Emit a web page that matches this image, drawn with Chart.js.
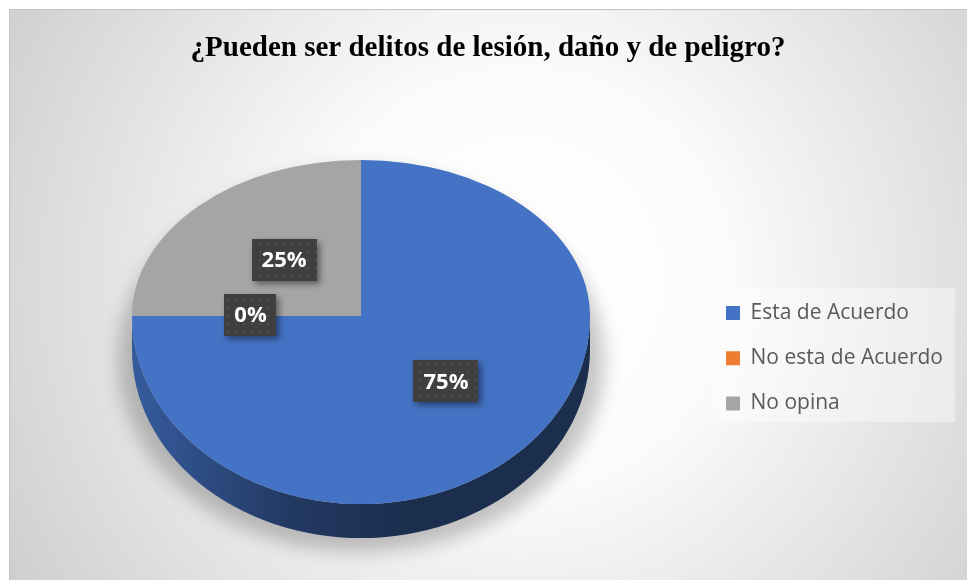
<!DOCTYPE html>
<html>
<head>
<meta charset="utf-8">
<script src="https://cdn.jsdelivr.net/npm/chart.js@4.4.1/dist/chart.umd.min.js"></script>
<style>
  html, body { margin: 0; padding: 0; background: #fff; }
</style>
</head>
<body>
<canvas id="myChart" width="967" height="580"></canvas>
<script>
var title = '¿Pueden ser delitos de lesión, daño y de peligro?';
var categories = ['Esta de Acuerdo', 'No esta de Acuerdo', 'No opina'];
var values = [75, 0, 25];
var colors = ['#4472C4', '#ED7D31', '#A5A5A5'];

// where the tilted disc sits (excel style 3d pie)
var PIE = { x: 361, y: 316, rx: 229, ryTop: 156, ryBottom: 188, depth: 34 };
// legend panel and first legend row
var LEGEND = { x: 714, y: 288, w: 241, h: 134, boxX: 726, firstRow: 313 };

function shade(hex, f) {
  var n = parseInt(hex.slice(1), 16);
  var r = Math.round(((n >> 16) & 255) * f);
  var g = Math.round(((n >> 8) & 255) * f);
  var b = Math.round((n & 255) * f);
  return 'rgb(' + r + ',' + g + ',' + b + ')';
}

// unit circle point -> page point on the tilted top face
function project(ux, uy) {
  return {
    x: PIE.x + ux * PIE.rx,
    y: PIE.y + uy * (uy < 0 ? PIE.ryTop : PIE.ryBottom)
  };
}

// dotted dark fill for the data labels
var dots = document.createElement('canvas');
dots.width = 8; dots.height = 8;
var dctx = dots.getContext('2d');
dctx.fillStyle = '#3f3f3f';
dctx.fillRect(0, 0, 8, 8);
dctx.fillStyle = '#4d4d4d';
dctx.fillRect(3, 3, 2, 2);

var background = {
  id: 'background',
  afterLayout: function(chart) {
    // move the legend onto its panel
    var lg = chart.legend;
    var pad = lg.options.labels.padding;
    var fontSize = lg.options.labels.font.size;
    var colH = lg.columnSizes[0].height;
    var y0 = (lg.top + pad + lg.bottom - colH) / 2;
    var dy = (LEGEND.firstRow - fontSize / 2) - y0;
    lg.top += dy; lg.bottom += dy;
    var dx = LEGEND.boxX - (lg.left + pad);
    lg.left += dx; lg.right += dx;
  },
  beforeDraw: function(chart) {
    var ctx = chart.ctx;
    ctx.save();
    ctx.fillStyle = '#fff';
    ctx.fillRect(0, 0, chart.width, chart.height);
    var g = ctx.createRadialGradient(520, 280, 30, 520, 280, 620);
    g.addColorStop(0, '#ffffff');
    g.addColorStop(0.3, '#fbfbfb');
    g.addColorStop(1, '#cbcbcb');
    ctx.fillStyle = g;
    ctx.fillRect(9, 9, chart.width - 9, chart.height - 9);
    ctx.strokeStyle = '#c4c4c4';
    ctx.lineWidth = 1;
    ctx.beginPath();
    ctx.moveTo(9.5, chart.height);
    ctx.lineTo(9.5, 9.5);
    ctx.lineTo(chart.width, 9.5);
    ctx.stroke();

    ctx.fillStyle = 'rgba(255,255,255,0.4)';
    ctx.fillRect(LEGEND.x, LEGEND.y, LEGEND.w, LEGEND.h);
    ctx.restore();
  }
};

var pie3d = {
  id: 'pie3d',
  beforeDatasetsDraw: function(chart) {
    var ctx = chart.ctx;
    var arcs = chart.getDatasetMeta(0).data;
    var R = arcs[0].outerRadius;
    var cx = arcs[0].x, cy = arcs[0].y;

    // soft shadow under the disc
    ctx.save();
    ctx.filter = 'blur(9px)';
    ctx.fillStyle = 'rgba(0,0,0,0.22)';
    ctx.beginPath();
    ctx.ellipse(PIE.x, PIE.y + 44, PIE.rx + 14, PIE.ryBottom + 4, 0, 0, Math.PI * 2);
    ctx.fill();
    ctx.restore();

    // side wall, only the front half shows
    arcs.forEach(function(arc, i) {
      for (var k = -1; k <= 1; k++) {
        var a = Math.max(arc.startAngle, k * 2 * Math.PI);
        var b = Math.min(arc.endAngle, k * 2 * Math.PI + Math.PI);
        if (b - a <= 0.0001) continue;
        var g = ctx.createLinearGradient(PIE.x - PIE.rx, 0, PIE.x + PIE.rx, 0);
        g.addColorStop(0, shade(colors[i], 0.8));
        g.addColorStop(0.35, shade(colors[i], 0.5));
        g.addColorStop(0.6, shade(colors[i], 0.4));
        g.addColorStop(1, shade(colors[i], 0.4));
        ctx.save();
        ctx.fillStyle = g;
        ctx.beginPath();
        ctx.ellipse(PIE.x, PIE.y, PIE.rx, PIE.ryBottom, 0, a, b);
        ctx.ellipse(PIE.x, PIE.y + PIE.depth, PIE.rx, PIE.ryBottom, 0, b, a, true);
        ctx.closePath();
        ctx.fill();
        ctx.restore();
      }
    });

    // top face: back half and front half get their own squash
    [['top', PIE.ryTop], ['bottom', PIE.ryBottom]].forEach(function(h) {
      ctx.save();
      ctx.beginPath();
      if (h[0] === 'top') ctx.rect(0, 0, chart.width, PIE.y + 0.5);
      else ctx.rect(0, PIE.y - 0.5, chart.width, chart.height);
      ctx.clip();
      ctx.translate(PIE.x, PIE.y);
      ctx.scale(PIE.rx / R, h[1] / R);
      ctx.translate(-cx, -cy);
      arcs.forEach(function(arc) { arc.draw(ctx); });
      ctx.restore();
    });
    return false;
  },
  afterDraw: function(chart) {
    var ctx = chart.ctx;
    var arcs = chart.getDatasetMeta(0).data;
    var total = values.reduce(function(s, v) { return s + v; }, 0);
    var pattern = ctx.createPattern(dots, 'repeat');
    arcs.forEach(function(arc, i) {
      var mid = (arc.startAngle + arc.endAngle) / 2;
      var p = project(0.5 * Math.cos(mid), 0.5 * Math.sin(mid));
      p.x += 4;
      p.y -= 1;
      var txt = Math.round(values[i] / total * 100) + '%';
      ctx.save();
      ctx.font = 'bold 22px "Open Sans"';
      var w = ctx.measureText(txt).width + 20;
      var h = 42;
      ctx.shadowColor = 'rgba(0,0,0,0.45)';
      ctx.shadowBlur = 6;
      ctx.shadowOffsetX = 3;
      ctx.shadowOffsetY = 3;
      ctx.fillStyle = pattern;
      ctx.fillRect(Math.round(p.x - w / 2), Math.round(p.y - h / 2), Math.round(w), h);
      ctx.shadowColor = 'transparent';
      ctx.fillStyle = '#fff';
      ctx.textAlign = 'center';
      ctx.textBaseline = 'middle';
      ctx.fillText(txt, p.x, p.y + 1);
      ctx.restore();
    });
  }
};

var myChart = new Chart(document.getElementById('myChart').getContext('2d'), {
  type: 'pie',
  data: {
    labels: categories,
    datasets: [{
      data: values,
      backgroundColor: colors,
      borderWidth: 0
    }]
  },
  options: {
    responsive: false,
    animation: false,
    layout: { padding: { left: 9, top: 9, right: 0, bottom: 30 } },
    plugins: {
      title: {
        display: true,
        text: title,
        color: '#000',
        font: { family: 'Liberation Serif', size: 29, weight: 'bold' },
        padding: { top: 22, bottom: 10 }
      },
      legend: {
        position: 'right',
        labels: {
          boxWidth: 14,
          boxHeight: 14,
          padding: 24.2,
          color: '#595959',
          font: { family: 'Open Sans', size: 21 }
        }
      },
      tooltip: { enabled: false }
    }
  },
  plugins: [background, pie3d]
});
</script>
</body>
</html>
